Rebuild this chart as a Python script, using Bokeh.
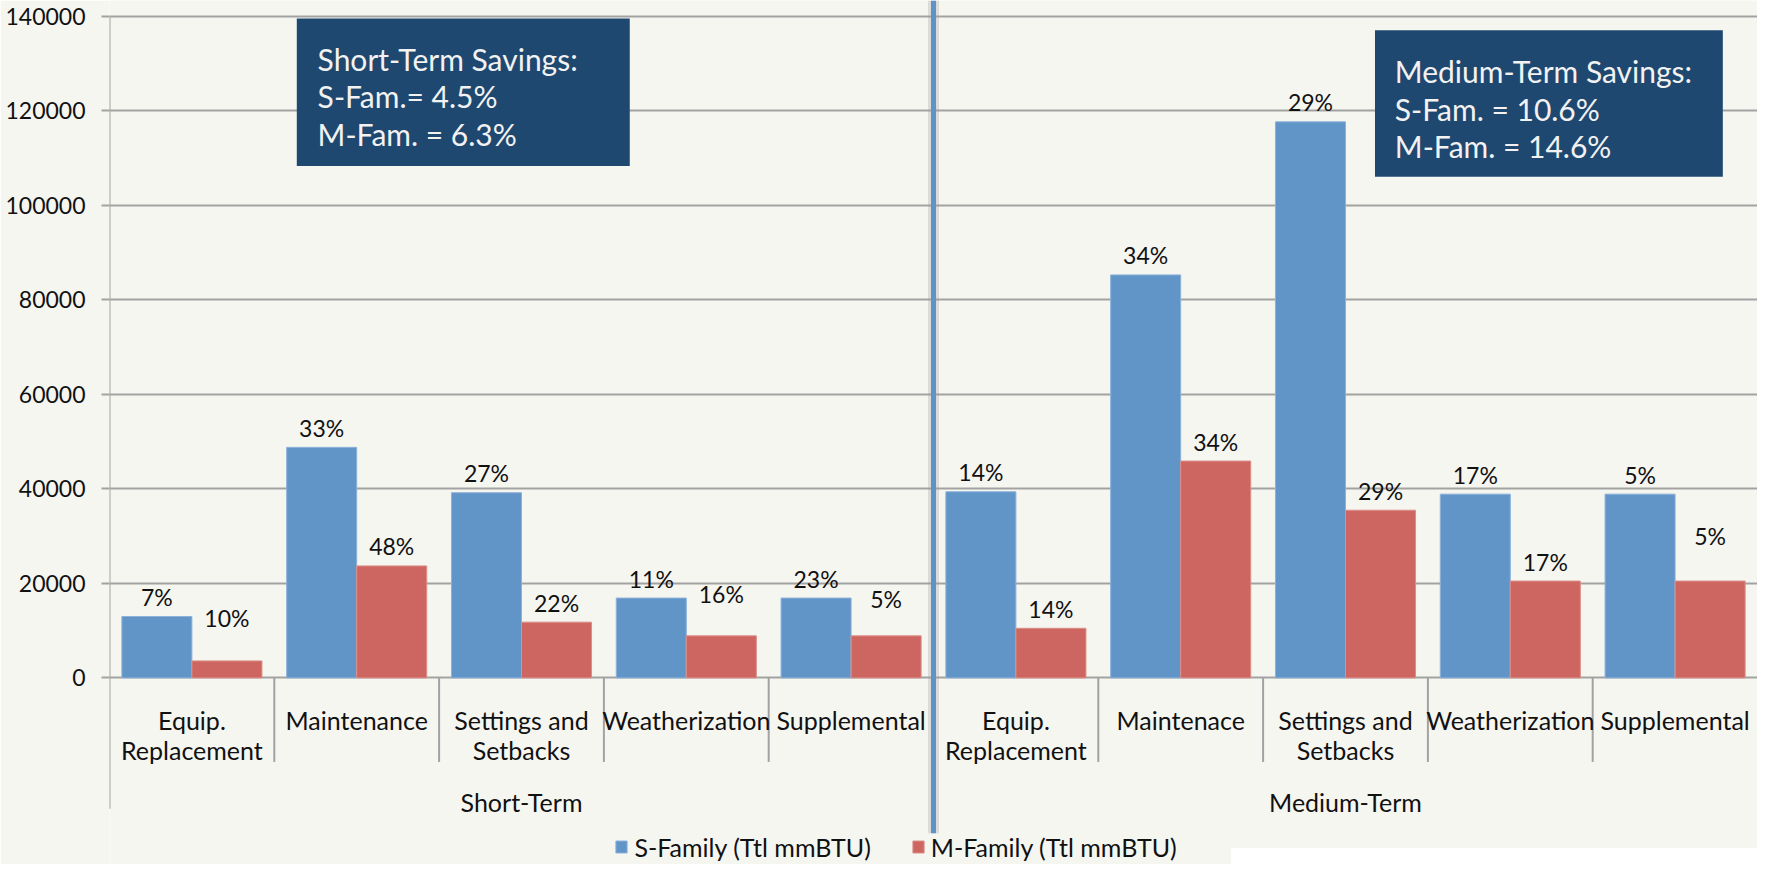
from bokeh.plotting import figure
from bokeh.models import (FactorRange, Range1d, ColumnDataSource, FixedTicker,
                          NumeralTickFormatter, Legend, LegendItem)
from bokeh.transform import dodge
from bokeh.core.properties import value
from bokeh.embed import file_html
from bokeh.resources import INLINE

# ---------------- data ----------------
groups = ["Short-Term", "Medium-Term"]
short_cats = ["Equip.\nReplacement", "Maintenance", "Settings and\nSetbacks", "Weatherization", "Supplemental"]
medium_cats = ["Equip.\nReplacement", "Maintenace", "Settings and\nSetbacks", "Weatherization", "Supplemental"]

s_family_short = [13000, 48800, 39200, 16900, 16900]
m_family_short = [3600, 23700, 11800, 8900, 8900]
s_family_medium = [39400, 85300, 117700, 38900, 38900]
m_family_medium = [10500, 45900, 35500, 20500, 20500]

s_pct_short = ["7%", "33%", "27%", "11%", "23%"]
m_pct_short = ["10%", "48%", "22%", "16%", "5%"]
s_pct_medium = ["14%", "34%", "29%", "17%", "5%"]
m_pct_medium = ["14%", "34%", "29%", "17%", "5%"]

y_ticks = [0, 20000, 40000, 60000, 80000, 100000, 120000, 140000]
series_names = ["S-Family (Ttl mmBTU)", "M-Family (Ttl mmBTU)"]
callouts = ["Short-Term Savings:\nS-Fam.= 4.5%\nM-Fam. = 6.3%",
            "Medium-Term Savings:\nS-Fam. = 10.6%\nM-Fam. = 14.6%"]

# ---------------- style / layout ----------------
BG = "#F6F6F1"
BLUE = "#6195C8"
BLUE_EDGE = "#8DB2DA"
RED = "#CD6660"
RED_EDGE = "#DC8F8A"
BOX = "#1F4870"
GRID = "#A2A2A2"
INK = "#111111"
FONT = "Lato"

W, H = 1757, 864
REF_W, REF_H = 1773, 880          # reference picture size (layout is expressed in it)
SX = W / REF_W
FRAME_L = 110                     # reference px
ZERO_Y, TOP_Y = 689.0, 12.0       # reference px of 0 and of the top tick
PPU = (ZERO_Y - TOP_Y) / y_ticks[-1]
REF_CATW = (REF_W - FRAME_L) / 10

# vertical mapping: reference y TOP_Y -> canvas y TOP_CANVAS, reference bottom -> canvas bottom
TOP_CANVAS = 16
SY = (H - TOP_CANVAS) / (REF_H - TOP_Y)
REF_TOP = TOP_Y - TOP_CANVAS / SY   # reference y that lands on the canvas top

# per-label extra lift (px) for the labels that were nudged upward
m_lift_short = [24, 0, 0, 23, 18]
m_lift_medium = [0, 0, 0, 0, 26]
GAP = 20 * SY


def vy(sy):
    return (ZERO_Y - sy) / PPU


def vx(sx):
    return (sx - FRAME_L) / REF_CATW


def key(lbl):
    return lbl.replace("\n", " ")


factors = [(groups[0], key(c)) for c in short_cats] + [(groups[1], key(c)) for c in medium_cats]
n = len(factors)

x_range = FactorRange(*factors, factor_padding=0, group_padding=0, subgroup_padding=0, range_padding=0)
y_range = Range1d(vy(REF_H), vy(REF_TOP))

p = figure(x_range=x_range, y_range=y_range, width=W, height=H,
           output_backend="svg", toolbar_location=None, x_axis_location=None,
           min_border_left=round(FRAME_L * SX), min_border_right=0, min_border_top=0, min_border_bottom=0,
           background_fill_color=BG, border_fill_color=BG, outline_line_color=None)
p.xgrid.visible = False

# y axis
ticker = FixedTicker(ticks=y_ticks)
p.yaxis.ticker = ticker
p.yaxis.formatter = NumeralTickFormatter(format="0")
p.yaxis.axis_line_color = None
p.yaxis.major_tick_in = 0
p.yaxis.major_tick_out = 8
p.yaxis.major_tick_line_color = GRID
p.yaxis.major_tick_line_width = 2
p.yaxis.minor_tick_line_color = None
p.yaxis.major_label_standoff = 16
p.yaxis.major_label_text_font = FONT
p.yaxis.major_label_text_font_size = "23px"
p.yaxis.major_label_text_color = INK
p.ygrid.ticker = ticker
p.ygrid.grid_line_color = GRID
p.ygrid.grid_line_width = 2

# callout boxes
p.quad(left=[vx(299), vx(1387)], right=[vx(635), vx(1738)],
       top=[vy(14), vy(26)], bottom=[vy(165), vy(176)],
       fill_color=BOX, line_color=None)
box_x = [vx(320), vx(1407)]
box_base = [55, 68]
for i, txt in enumerate(callouts):
    lines = txt.split("\n")
    p.text(x=[box_x[i]] * len(lines), y=[vy(box_base[i] + 38.5 * k) for k in range(len(lines))],
           text=lines, text_font=value(FONT), text_font_size=value("30px"),
           text_color="#F2F2F2", text_baseline="alphabetic", text_align="left")

# bars
s_vals = s_family_short + s_family_medium
m_vals = m_family_short + m_family_medium
src = ColumnDataSource(dict(
    x=factors,
    s=s_vals,
    m=m_vals,
    s_lbl=s_pct_short + s_pct_medium,
    m_lbl=m_pct_short + m_pct_medium,
    s_off=[-GAP] * n,
    m_off=[-(GAP + l * SY) for l in m_lift_short + m_lift_medium],
))

BW = 0.425
r_s = p.vbar(x=dodge("x", -BW / 2, range=x_range), top="s", width=BW, source=src,
             fill_color=BLUE, line_color=BLUE_EDGE, line_width=1)
r_m = p.vbar(x=dodge("x", BW / 2, range=x_range), top="m", width=BW, source=src,
             fill_color=RED, line_color=RED_EDGE, line_width=1)

p.text(x=dodge("x", -BW / 2, range=x_range), y="s", text="s_lbl", y_offset="s_off", source=src,
       text_align="center", text_baseline="alphabetic", text_font=value(FONT),
       text_font_size=value("23px"), text_color=INK)
p.text(x=dodge("x", BW / 2, range=x_range), y="m", text="m_lbl", y_offset="m_off", source=src,
       text_align="center", text_baseline="alphabetic", text_font=value(FONT),
       text_font_size=value("23px"), text_color=INK)

# category separators and frame lines below the axis
short_b = [i for i in range(1, n) if i != len(short_cats)]
p.segment(x0=short_b, y0=[0] * len(short_b), x1=short_b, y1=[vy(775)] * len(short_b),
          line_color=GRID, line_width=2)
p.segment(x0=[0], y0=[y_ticks[-1]], x1=[0], y1=[vy(823)], line_color=GRID, line_width=2)

# category labels (two lines)
cats = short_cats + medium_cats
line1 = [c.split("\n")[0] for c in cats]
line2 = [c.split("\n")[1] if "\n" in c else "" for c in cats]
p.text(x=factors, y=[vy(732)] * n, text=line1, text_align="center", text_baseline="alphabetic",
       text_font=value(FONT), text_font_size=value("25px"), text_color=INK)
p.text(x=factors, y=[vy(763)] * n, text=line2, text_align="center", text_baseline="alphabetic",
       text_font=value(FONT), text_font_size=value("25px"), text_color=INK)
p.text(x=groups, y=[vy(816)] * len(groups), text=groups, text_align="center", text_baseline="alphabetic",
       text_font=value(FONT), text_font_size=value("25px"), text_color=INK)

# group divider
div_x = len(short_cats)
p.segment(x0=[div_x], y0=[vy(REF_TOP)], x1=[div_x], y1=[vy(848)], line_color="#9A9A9A",
          line_alpha=0.3, line_width=11)
p.segment(x0=[div_x], y0=[vy(REF_TOP)], x1=[div_x], y1=[vy(848)], line_color="#5E93CA", line_width=5)

# white strip at bottom right
p.quad(left=[vx(1242)], right=[vx(1800)], top=[vy(863)], bottom=[vy(900)],
       fill_color="white", line_color=None)

# legends
LEG_H = 25
leg_x = [(620 - FRAME_L) * SX, (919 - FRAME_L) * SX]
leg_y = (REF_H - 865) * SY - LEG_H / 2
for i, r in enumerate([r_s, r_m]):
    leg = Legend(items=[LegendItem(label=series_names[i], renderers=[r])],
                 location=(leg_x[i], leg_y), orientation="horizontal",
                 glyph_width=14, glyph_height=15, label_standoff=6, padding=0, margin=0,
                 spacing=0, border_line_color=None, background_fill_alpha=0,
                 label_text_font=FONT, label_text_font_size="25px", label_text_color=INK,
                 label_height=LEG_H)
    p.add_layout(leg)

open("out.html", "w").write(file_html(p, INLINE))
